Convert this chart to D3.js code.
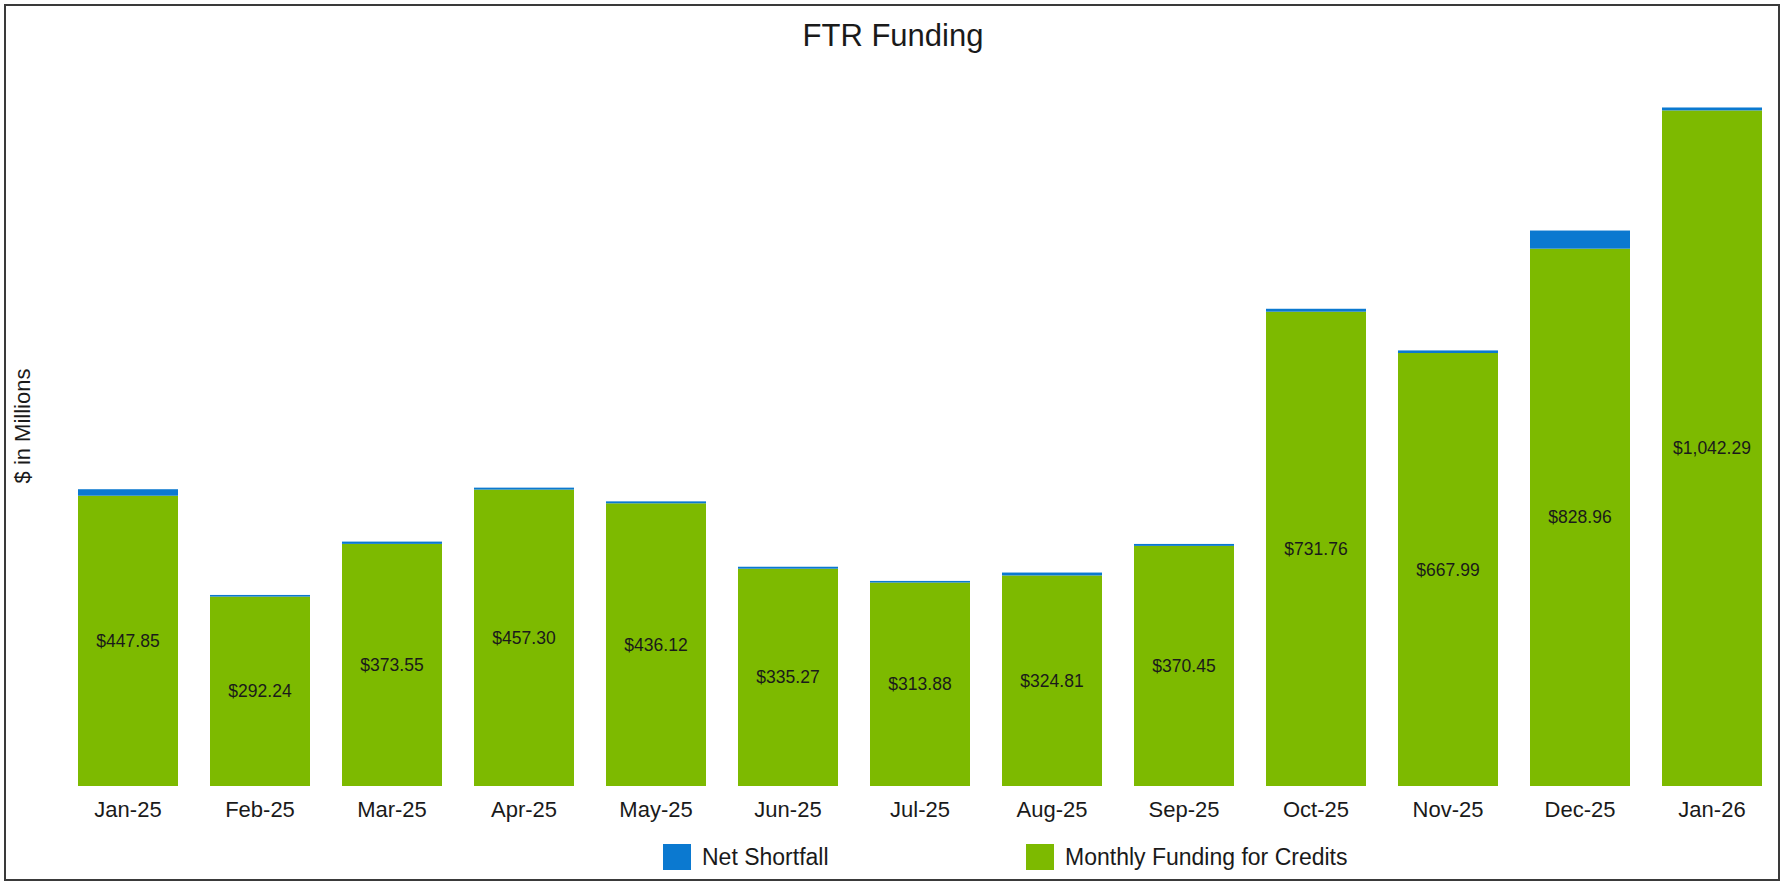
<!DOCTYPE html>
<html>
<head>
<meta charset="utf-8">
<script src="https://cdn.jsdelivr.net/npm/d3@7"></script>
<style>
  html, body { margin: 0; padding: 0; background: #fff; }
  #chart { width: 1784px; height: 884px; }
  text { font-family: "Liberation Sans", Arial, sans-serif; }
</style>
</head>
<body>
<div id="chart"></div>
<script>
// FTR Funding, stacked bars ($ in millions)
const months = ["Jan-25", "Feb-25", "Mar-25", "Apr-25", "May-25", "Jun-25", "Jul-25",
                "Aug-25", "Sep-25", "Oct-25", "Nov-25", "Dec-25", "Jan-26"];
const monthlyFunding = [447.85, 292.24, 373.55, 457.30, 436.12, 335.27, 313.88,
                        324.81, 370.45, 731.76, 667.99, 828.96, 1042.29];
// shortfall read off the thin blue caps (estimated)
const netShortfall = [10, 2.5, 3.5, 3, 3, 3, 2.5, 4.5, 3, 4.5, 4, 28, 4.5];
const seriesNames = ["Net Shortfall", "Monthly Funding for Credits"];

const width = 1784;
const height = 884;
const green = "#7dba00";
const blue = "#0b79d0";

const svg = d3.select("#chart")
    .append("svg")
    .attr("width", width)
    .attr("height", height)
    .style("display", "block");

// frame
svg.append("rect")
    .attr("x", 5).attr("y", 5)
    .attr("width", width - 10).attr("height", height - 9)
    .attr("fill", "#fff")
    .attr("stroke", "#3a3a3a")
    .attr("stroke-width", 2);

const x = d3.scaleBand()
    .domain(months)
    .range([62, 1778])
    .paddingInner(32 / 132)
    .paddingOuter(16 / 132);

const y = d3.scaleLinear()
    .domain([0, 1100])
    .range([786, 73]);

const rows = months.map((m, i) => ({ month: m, funding: monthlyFunding[i], shortfall: netShortfall[i] }));

// green bars
svg.append("g")
    .selectAll("rect")
    .data(rows)
    .join("rect")
    .attr("x", d => x(d.month))
    .attr("width", x.bandwidth())
    .attr("y", d => y(d.funding))
    .attr("height", d => y(0) - y(d.funding))
    .attr("fill", green);

// blue shortfall caps
svg.append("g")
    .selectAll("rect")
    .data(rows)
    .join("rect")
    .attr("x", d => x(d.month))
    .attr("width", x.bandwidth())
    .attr("y", d => y(d.funding + d.shortfall))
    .attr("height", d => y(d.funding) - y(d.funding + d.shortfall))
    .attr("fill", blue);

// value labels in the middle of the green part
svg.append("g")
    .selectAll("text")
    .data(rows)
    .join("text")
    .attr("x", d => x(d.month) + x.bandwidth() / 2)
    .attr("y", d => (y(d.funding) + y(0)) / 2)
    .attr("dy", "0.35em")
    .attr("text-anchor", "middle")
    .attr("font-size", 17.5)
    .attr("fill", "#1a1a1a")
    .text(d => "$" + d3.format(",.2f")(d.funding));

// x axis labels (no line, no ticks)
const xAxis = svg.append("g")
    .attr("transform", `translate(0, ${y(0)})`)
    .call(d3.axisBottom(x).tickSize(0).tickPadding(0));
xAxis.select(".domain").remove();
xAxis.selectAll("text")
    .attr("y", 31)
    .attr("dy", 0)
    .attr("font-size", 22)
    .attr("font-family", "Liberation Sans, Arial, sans-serif")
    .attr("fill", "#1a1a1a");

// title
svg.append("text")
    .attr("x", 893)
    .attr("y", 46)
    .attr("text-anchor", "middle")
    .attr("font-size", 31)
    .attr("fill", "#1a1a1a")
    .text("FTR Funding");

// y axis title
svg.append("text")
    .attr("transform", "translate(30, 426) rotate(-90)")
    .attr("text-anchor", "middle")
    .attr("font-size", 22)
    .attr("fill", "#1a1a1a")
    .text("$ in Millions");

// legend
const legendItems = [
    { name: seriesNames[0], color: blue, x: 663 },
    { name: seriesNames[1], color: green, x: 1026 }
];
const legend = svg.append("g")
    .selectAll("g")
    .data(legendItems)
    .join("g")
    .attr("transform", d => `translate(${d.x}, 857)`);
legend.append("rect")
    .attr("x", 0).attr("y", -13)
    .attr("width", 28).attr("height", 26)
    .attr("fill", d => d.color);
legend.append("text")
    .attr("x", 39)
    .attr("dy", "0.35em")
    .attr("font-size", 23)
    .attr("fill", "#1a1a1a")
    .text(d => d.name);
</script>
</body>
</html>
